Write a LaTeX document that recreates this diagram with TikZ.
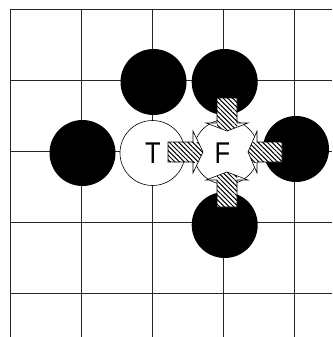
\documentclass[tikz,border=0pt]{standalone}
\usepackage{fontspec}
\setmainfont{Liberation Sans}[FakeStretch=0.85]
\usetikzlibrary{patterns.meta}
\tikzset{
 gridline/.style={line width=0.9pt, draw=black!85},
 blackstone/.style={circle, fill=black, minimum size=66pt, inner sep=0pt},
 whitestone/.style={circle, fill=white, draw=black, line width=0.6pt, minimum size=65pt, inner sep=0pt},
 stonelabel/.style={font=\fontsize{30}{32}\selectfont, inner sep=0pt},
 hatch/.style={pattern={Lines[angle=-45,distance=3.3pt,line width=1pt]}},
 arrowline/.style={draw=black, line width=0.6pt, line join=miter},
}
\newcommand\hatchedarrow[2]{%
 \fill[white] #1;
 \begin{scope}\clip #1; \fill[hatch] #2; \end{scope}
 \draw[arrowline] #1;}
\begin{document}
\begin{tikzpicture}[x=1pt,y=-1pt]
\useasboundingbox (0,0) rectangle (332,337);
\foreach \x in {10,81,152,223,294} \draw[gridline] (\x,9) -- (\x,337);
\foreach \y in {9,80,151,222,293} \draw[gridline] (10,\y) -- (332,\y);
\node[blackstone] (b1) at (153.5,82) {};
\node[blackstone] (b2) at (224.7,82) {};
\node[blackstone] (b3) at (82.5,153) {};
\node[blackstone] (b4) at (296,149) {};
\node[blackstone] (b5) at (224.7,225) {};
\node[whitestone] (t) at (152.5,153) {};
\node[whitestone] (f) at (226,152) {};
\node[stonelabel] (tl) at (153,153) {T};
\node[stonelabel] (fl) at (222.5,153) {F};
% left arrow (points right)
\hatchedarrow{(168,142) -- (193,142) -- (193,131) -- (203,152) -- (193,173) -- (193,162) -- (168,162) -- cycle}{(168,142) rectangle (204,162)}
% right arrow (points left)
\hatchedarrow{(282,142) -- (257,142) -- (257,131) -- (248,152) -- (257,173) -- (257,162) -- (282,162) -- cycle}{(282,142) rectangle (247,162)}
% top arrow (points down)
\hatchedarrow{(217,98) -- (237,98) -- (237,123) -- (248,123) -- (227,131) -- (206,123) -- (217,123) -- cycle}{(217,98) rectangle (237,132)}
% bottom arrow (points up)
\hatchedarrow{(217,207) -- (237,207) -- (237,180) -- (248,180) -- (227,172) -- (206,180) -- (217,180) -- cycle}{(217,207) rectangle (237,171)}
\end{tikzpicture}
\end{document}
